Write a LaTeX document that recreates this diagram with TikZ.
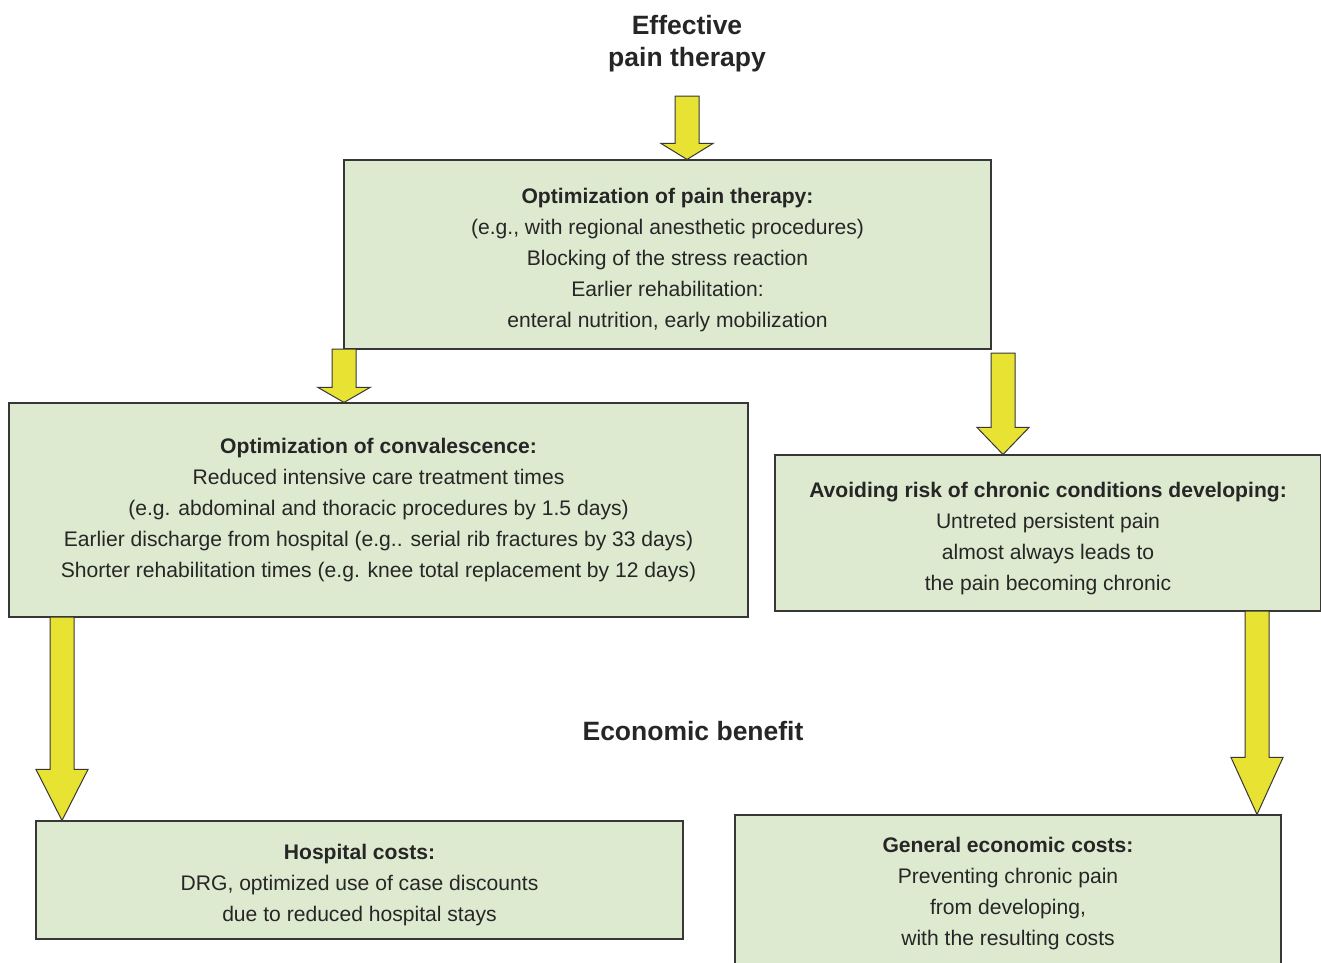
\documentclass[tikz,border=0pt]{standalone}
\usepackage{fontspec}
\setmainfont{Liberation Sans}
\usetikzlibrary{calc}
\definecolor{boxgreen}{RGB}{222,234,208}
\definecolor{arrowyellow}{RGB}{232,226,50}
\definecolor{edgegray}{RGB}{55,55,55}
\tikzset{
  infobox/.style={draw=edgegray, line width=1.1pt, fill=boxgreen, rectangle, inner sep=0pt},
  boxtext/.style={inner sep=0pt, align=center, font=\fontsize{21.1}{31}\selectfont, text=black!85},
  fatarrow/.style={draw=edgegray, line width=1pt, fill=arrowyellow, line join=miter},
  headline/.style={font=\bfseries\fontsize{26.5}{32}\selectfont, align=center, text=black!85}
}
\newcommand{\blockarrow}[3]{%
  \draw[fatarrow] let \p1=(#1), \p2=(#2) in
    ({\x1-12pt},\y1) -- ({\x1-12pt},{\y2+#3}) -- ({\x1-26pt},{\y2+#3}) -- (\x1,\y2)
    -- ({\x1+26pt},{\y2+#3}) -- ({\x1+12pt},{\y2+#3}) -- ({\x1+12pt},\y1) -- cycle;}
\begin{document}
\begin{tikzpicture}[x=1pt,y=-1pt]
\clip (0,0) rectangle (1321,962);
\fill[white] (0,0) rectangle (1321,962);

\node[headline] (title) at (687,44) {Effective\\pain therapy};
\node[headline] (econ) at (693,731) {Economic benefit};

\node[infobox, minimum width=647pt, minimum height=189pt] (top) at (667.5,254.5) {};
\node[boxtext] (toptext) at ($(top.center)+(0,5.5)$)
  {\textbf{Optimization of pain therapy:}\\(e.g., with regional anesthetic procedures)\\Blocking of the stress reaction\\Earlier rehabilitation:\\enteral nutrition, early mobilization};

\node[infobox, minimum width=739pt, minimum height=214pt] (lm) at (378.5,510) {};
\node[boxtext] (lmtext) at ($(lm.center)+(0,0)$)
  {\textbf{Optimization of convalescence:}\\Reduced intensive care treatment times\\(e.g. abdominal and thoracic procedures by 1.5 days)\\Earlier discharge from hospital (e.g.. serial rib fractures by 33 days)\\Shorter rehabilitation times (e.g. knee total replacement by 12 days)};

\node[infobox, minimum width=546pt, minimum height=156pt] (rm) at (1048,533) {};
\node[boxtext] (rmtext) at ($(rm.center)+(0,6)$)
  {\textbf{Avoiding risk of chronic conditions developing:}\\Untreted persistent pain\\almost always leads to\\the pain becoming chronic};

\node[infobox, minimum width=647pt, minimum height=118pt] (bl) at (359.5,880) {};
\node[boxtext] (bltext) at ($(bl.center)+(0,5)$)
  {\textbf{Hospital costs:}\\DRG, optimized use of case discounts\\due to reduced hospital stays};

\node[infobox, minimum width=546pt, minimum height=154pt] (br) at (1008,892) {};
\node[boxtext] (brtext) at ($(br.center)+(0,2)$)
  {\textbf{General economic costs:}\\Preventing chronic pain\\from developing,\\with the resulting costs};

\coordinate (a1s) at (687,96);
\coordinate (a2s) at (344,349);
\coordinate (a3s) at (1003,353);
\coordinate (a4s) at (62,617);
\coordinate (a5s) at (1257,611);

\blockarrow{a1s}{top.north -| a1s}{16pt}
\blockarrow{a2s}{lm.north -| a2s}{15pt}
\blockarrow{a3s}{rm.north -| a3s}{27pt}
\blockarrow{a4s}{bl.north -| a4s}{51pt}
\blockarrow{a5s}{br.north -| a5s}{57pt}
\end{tikzpicture}
\end{document}
